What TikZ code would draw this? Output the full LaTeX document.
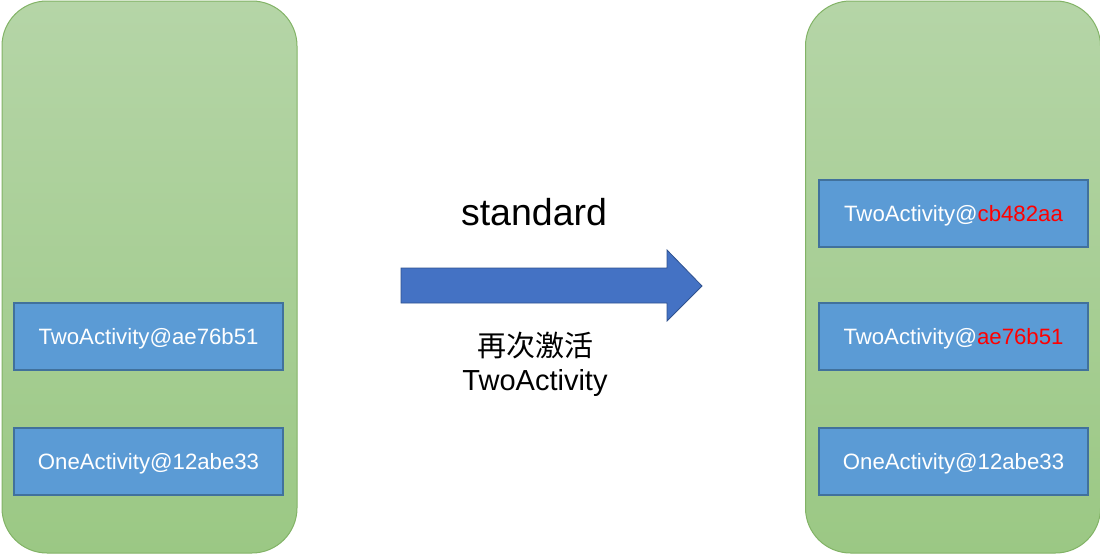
\documentclass[tikz,border=0pt]{standalone}
\usepackage{fontspec}
\setmainfont{Liberation Sans}
\newfontfamily\cjk{Noto Sans CJK SC}
\usetikzlibrary{positioning, calc}
\definecolor{stackTop}{HTML}{B5D5A7}
\definecolor{stackBot}{HTML}{9BC884}
\definecolor{stackLine}{HTML}{82B366}
\definecolor{actFill}{HTML}{5B9BD5}
\definecolor{actLine}{HTML}{41719C}
\definecolor{arrFill}{HTML}{4472C4}
\definecolor{arrLine}{HTML}{2F528F}

\tikzset{
  stack/.style={draw=stackLine, line width=1pt, top color=stackTop, bottom color=stackBot,
    rounded corners=45pt, minimum width=295pt, minimum height=552pt, inner sep=0pt},
  activity/.style={draw=actLine, line width=1.2pt, fill=actFill, text=white,
    minimum width=269pt, minimum height=67pt, inner sep=0pt, text depth=1pt,
    font=\fontsize{22.2}{26}\selectfont},
}

\begin{document}
\begin{tikzpicture}[x=1pt, y=-1pt]
\useasboundingbox (0,0) rectangle (1100,554);

% 两个任务栈
\node[stack] (leftStack) at (149.5,277) {};
\node[stack] (rightStack) at (953,277) {};

% 左边的栈
\node[activity] (leftTwo) at (148.5,336.5) {TwoActivity@ae76b51};
\node[activity] (leftOne) at (148.5,461.5) {OneActivity@12abe33};

% 右边的栈
\node[activity] (rightNew) at (953.5,213.5) {TwoActivity@\textcolor{red}{cb482aa}};
\node[activity] (rightTwo) at (953.5,336.5) {TwoActivity@\textcolor{red}{ae76b51}};
\node[activity] (rightOne) at (953.5,461.5) {OneActivity@12abe33};

% 箭头
\draw[draw=arrLine, fill=arrFill, line width=0.8pt]
  (401,268) -- (667,268) -- (667,250) -- (702,286) -- (667,321) -- (667,303) -- (401,303) -- cycle;
\node[font=\fontsize{37.5}{42}\selectfont] (mode) at (534,212) {standard};
\node[align=center, font=\fontsize{29}{34}\selectfont] (label) at (535,364)
  {{\cjk 再次激活}\\TwoActivity};

\end{tikzpicture}
\end{document}
